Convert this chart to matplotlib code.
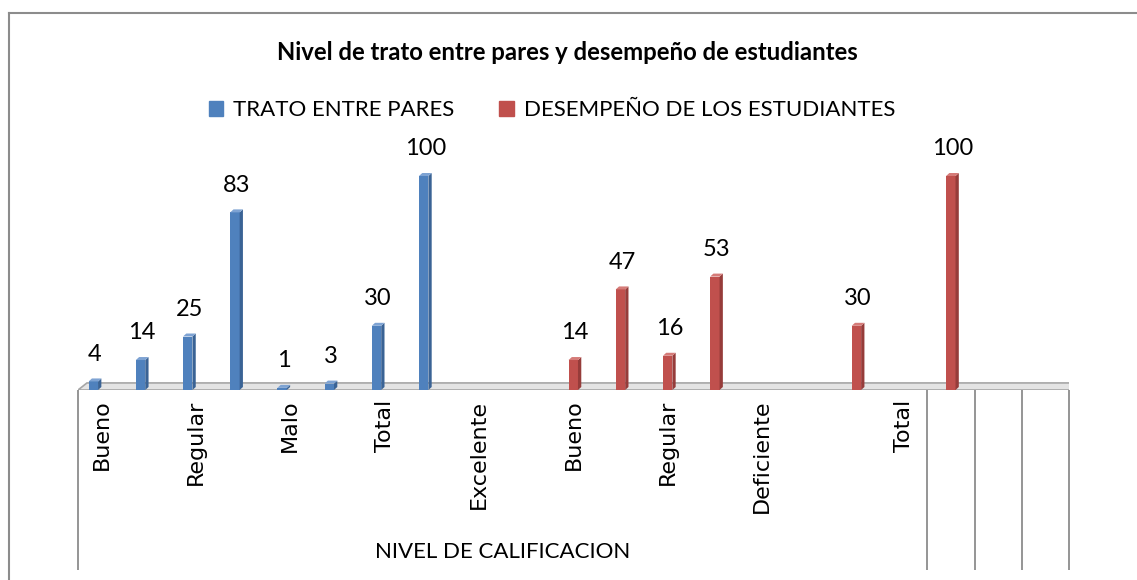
"""Nivel de trato entre pares y desempeño de estudiantes"""

import numpy as np
import matplotlib
matplotlib.use('Agg')
import matplotlib.pyplot as plt
from matplotlib.patches import Polygon, Patch

#Datos -----------------
n_cat = 21                                             #Kategorien auf der x-Achse
pos_trato = [0, 1, 2, 3, 4, 5, 6, 7]
val_trato = [4, 14, 25, 83, 1, 3, 30, 100]
pos_desemp = [10, 11, 12, 13, 16, 18]
val_desemp = [14, 47, 16, 53, 30, 100]

pos_etiquetas = [0, 2, 4, 6, 8, 10, 12, 14, 17]
etiquetas = ['Bueno', 'Regular', 'Malo', 'Total', 'Excelente',
             'Bueno', 'Regular', 'Deficiente', 'Total']
grupo_fin = [18, 19, 20, 21]                           #Grenzen der Gruppen unten

titulo = 'Nivel de trato entre pares y desempeño de estudiantes'
serie1 = 'TRATO ENTRE PARES'
serie2 = 'DESEMPEÑO DE LOS ESTUDIANTES'
eje_x = 'NIVEL DE CALIFICACION'

W, H = 1137, 580
fig = plt.figure(figsize=(W / 100, H / 100), dpi=100)

#Achse in Pixelkoordinaten platzieren
x0, x1 = 78, 1069
y_base = 390
px_por_u = 2.14
ymax = 120
ax = fig.add_axes([x0 / W, (H - y_base) / H, (x1 - x0) / W,
                   ymax * px_por_u / H])
ax.set_xlim(-0.5, n_cat - 0.5)
ax.set_ylim(0, ymax)
for s in ax.spines.values():
    s.set_visible(False)
ax.set_yticks([])

#Boden (3D)
dx_f, dy_f = 0.19, 3.3
ax.add_patch(Polygon([(-0.5, 0), (n_cat - 0.5, 0), (n_cat - 0.5 + dx_f, dy_f),
                      (-0.5 + dx_f, dy_f)], closed=True, facecolor='#e4e4e4',
                     edgecolor='#a6a6a6', lw=1.2, zorder=1))

def barras_3d(pos, vals, offset, c_front, c_side, c_top):
    w = 0.2
    dx, dy = 0.07, 1.4
    for p, v in zip(pos, vals):
        xl = p + offset - w / 2 - dx / 2
        xr = xl + w
        ax.add_patch(Polygon([(xl, 0), (xr, 0), (xr, v), (xl, v)],
                             facecolor=c_front, edgecolor='none', zorder=3))
        ax.add_patch(Polygon([(xr, 0), (xr + dx, dy), (xr + dx, v + dy), (xr, v)],
                             facecolor=c_side, edgecolor='none', zorder=3))
        ax.add_patch(Polygon([(xl, v), (xr, v), (xr + dx, v + dy), (xl + dx, v + dy)],
                             facecolor=c_top, edgecolor='none', zorder=3))
        ax.annotate(str(v), (p + offset, v), xytext=(0, 19.5),
                    textcoords='offset points', ha='center', va='center',
                    fontsize=17, family='Lato', color='black')

barras_3d(pos_trato, val_trato, -0.14, '#4f81bd', '#3a6395', '#7ea3d3')
barras_3d(pos_desemp, val_desemp, 0.03, '#c0504d', '#963c3a', '#d57b78')

#Kategorienachse
ax.set_xticks(pos_etiquetas, etiquetas, rotation=90, va='top', ha='center',
              fontsize=16, family='DejaVu Sans')
ax.tick_params(axis='x', length=0, pad=7)

y_bajo = -(570 - y_base) / px_por_u
ax.vlines([-0.5] + [g - 0.5 for g in grupo_fin], y_bajo, 0, color='#8c8c8c',
          lw=1.3, clip_on=False)
ax.text((grupo_fin[0] - 1) / 2, -(552 - y_base) / px_por_u, eje_x,
        ha='center', va='center', fontsize=16, family='Lato')

#Titel und Legende
fig.text(567 / W, 1 - 52 / H, titulo, ha='center', va='center',
         fontsize=17.2, family='Lato', weight='bold')
handles = [Patch(color='#4f81bd', label=serie1), Patch(color='#c0504d', label=serie2)]
fig.legend(handles=handles, loc='center', bbox_to_anchor=(552 / W, 1 - 110 / H),
           ncol=2, frameon=False, handlelength=0.65, handleheight=0.65,
           handletextpad=0.45, columnspacing=2.0, prop={'family': 'Lato', 'size': 16})

#Rahmen
fig.add_artist(plt.Line2D([9 / W, 9 / W], [0, 1 - 13 / H], color='#8c8c8c', lw=1.5))
fig.add_artist(plt.Line2D([9 / W, 1], [1 - 13 / H, 1 - 13 / H], color='#8c8c8c', lw=1.5))

fig.savefig('out.png', dpi=100)
